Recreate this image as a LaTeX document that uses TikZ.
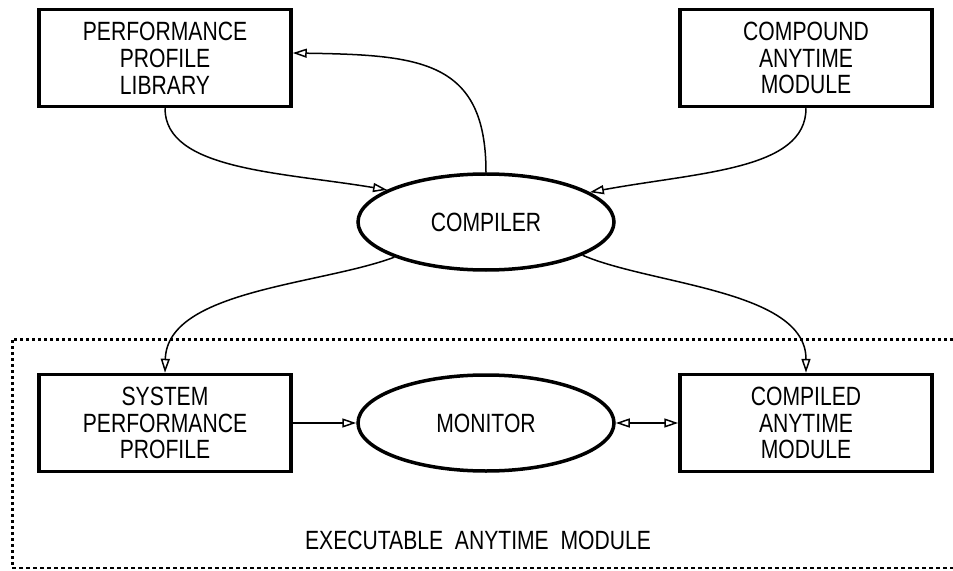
\documentclass[tikz,border=0pt]{standalone}
\usepackage{fontspec}
\setmainfont{Liberation Sans}[FakeStretch=0.8]
\usetikzlibrary{shapes.geometric, arrows.meta}

\begin{document}
\begin{tikzpicture}[
    x=1bp, y=-1bp,
    every node/.style={font=\fontsize{26.5}{27}\selectfont},
    module/.style={rectangle, draw, line width=3.5bp, minimum width=252bp, minimum height=97bp, align=center, inner sep=0pt},
    process/.style={ellipse, draw, line width=3.5bp, minimum width=256bp, minimum height=96bp, inner sep=0pt},
    arrow/.style={-{Triangle[open, length=14bp, width=9bp]}, line width=1.5bp},
    biarrow/.style={{Triangle[open, length=14bp, width=9bp]}-{Triangle[open, length=14bp, width=9bp]}, line width=1.5bp}
  ]
    \useasboundingbox (0,0) rectangle (953,571);

    % Top row
    \node[module] (ppl) at (165,58) {PERFORMANCE\\PROFILE\\LIBRARY};
    \node[module] (cam) at (806,58) {COMPOUND\\ANYTIME\\MODULE};

    % Compiler
    \node[process] (comp) at (486,222) {COMPILER};

    % Executable module
    \node[module] (spp) at (165,423) {SYSTEM\\PERFORMANCE\\PROFILE};
    \node[process] (mon) at (486,423) {MONITOR};
    \node[module] (cmod) at (806,423) {COMPILED\\ANYTIME\\MODULE};

    \draw[line width=3bp, dash pattern=on 3bp off 3bp] (953,339) -- (12,339) -- (12,568);
    \draw[line width=1.2bp, dash pattern=on 4bp off 3bp] (12,568) -- (953,568);
    \node (exec) at (478,540) {EXECUTABLE\ \ ANYTIME\ \ MODULE};

    % Connections
    \draw[arrow] (ppl.south) .. controls (165,170) and (280,172) .. (comp.162);
    \draw[arrow] (cam.south) .. controls (806,170) and (700,172) .. (comp.16);
    \draw[arrow] (comp.north) .. controls (486,60) and (420,55) .. ([yshift=5bp]ppl.east);
    \draw[arrow] (comp.201) .. controls (320,285) and (167,290) .. (spp.north);
    \draw[arrow] (comp.341) .. controls (652,285) and (806,290) .. (cmod.north);
    \draw[arrow] (spp.east) -- (mon.west);
    \draw[biarrow] (mon.east) -- (cmod.west);
  \end{tikzpicture}
\end{document}
